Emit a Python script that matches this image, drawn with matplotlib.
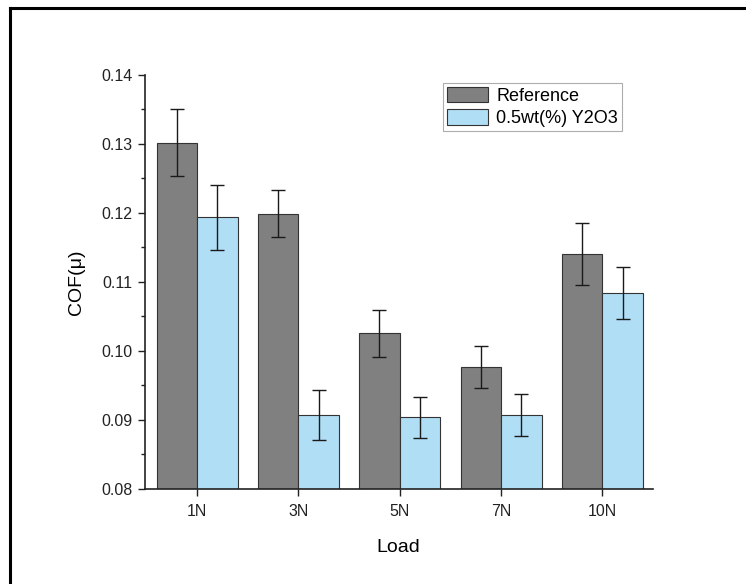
import numpy as np
import matplotlib
matplotlib.use("Agg")
import matplotlib.pyplot as plt
from matplotlib.lines import Line2D
from matplotlib.ticker import MultipleLocator, FormatStrFormatter

plt.rcParams['font.family'] = ['Liberation Sans', 'DejaVu Sans']

loads = ['1N', '3N', '5N', '7N', '10N']
reference = [0.1302, 0.1199, 0.1026, 0.0977, 0.1140]
reference_err = [0.0049, 0.0034, 0.0034, 0.0030, 0.0045]
y2o3 = [0.1194, 0.0907, 0.0904, 0.0907, 0.1084]
y2o3_err = [0.0047, 0.0036, 0.0030, 0.0030, 0.0038]

fig = plt.figure(figsize=(7.46, 5.84), dpi=100)
ax = fig.add_axes([0.1937, 0.1627, 0.6816, 0.7089])

x = np.arange(len(loads))
w = 0.4
err_kw = dict(ecolor='#1a1a1a', elinewidth=1.0, capsize=4.7, capthick=1.0)
ax.bar(x - w / 2, reference, w, yerr=reference_err, color='#808080',
       edgecolor='#333333', linewidth=0.8, label='Reference', error_kw=err_kw)
ax.bar(x + w / 2, y2o3, w, yerr=y2o3_err, color='#B0DEF5',
       edgecolor='#333333', linewidth=0.8, label='0.5wt(%) Y2O3', error_kw=err_kw)

ax.set_xlim(-0.52, 4.5)
ax.set_ylim(0.08, 0.14)
ax.set_xticks(x)
ax.set_xticklabels(loads)
ax.yaxis.set_major_locator(MultipleLocator(0.01))
ax.yaxis.set_minor_locator(MultipleLocator(0.005))
ax.yaxis.set_major_formatter(FormatStrFormatter('%.2f'))
ax.tick_params(axis='both', which='major', direction='out', length=5,
               width=1.0, labelsize=11.5, colors='#222222')
ax.tick_params(axis='x', which='major', pad=6)
ax.tick_params(axis='y', which='minor', direction='out', length=3, width=1.0,
               colors='#222222')
for side in ['top', 'right']:
    ax.spines[side].set_visible(False)
for side in ['left', 'bottom']:
    ax.spines[side].set_linewidth(1.2)
    ax.spines[side].set_color('#222222')

ax.set_xlabel('Load', fontsize=14, labelpad=14)
ax.set_ylabel('COF(\u03bc)', fontsize=14, labelpad=12)

leg = ax.legend(loc='upper left', bbox_to_anchor=(0.594, 0.858),
                bbox_transform=fig.transFigure, fontsize=13, fancybox=False,
                frameon=True, edgecolor='#999999', handlelength=2.3,
                handleheight=0.95, handletextpad=0.45, labelspacing=0.25,
                borderpad=0.2, borderaxespad=0)
leg.get_frame().set_linewidth(0.8)

# partial frame around the figure (top and left edges only)
fig.add_artist(Line2D([10 / 746, 1], [1 - 8 / 584, 1 - 8 / 584],
                      transform=fig.transFigure, color='black', linewidth=2.2))
fig.add_artist(Line2D([10 / 746, 10 / 746], [0, 1 - 8 / 584],
                      transform=fig.transFigure, color='black', linewidth=2.2))

fig.savefig('out.png', dpi=100)
